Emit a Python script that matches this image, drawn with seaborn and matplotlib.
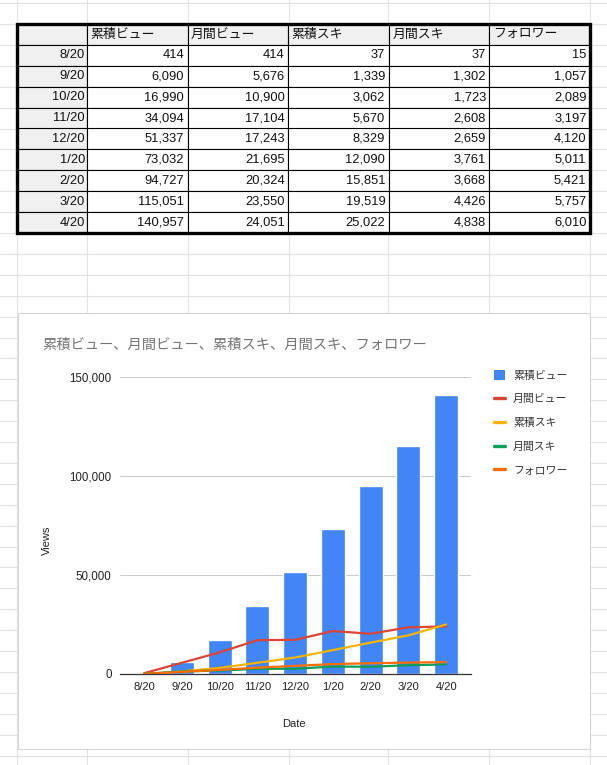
import numpy as np
import pandas as pd
import seaborn as sns
import matplotlib.pyplot as plt
from matplotlib.patches import Rectangle, Patch
from matplotlib.lines import Line2D
from matplotlib.ticker import FuncFormatter

dates = ['8/20', '9/20', '10/20', '11/20', '12/20', '1/20', '2/20', '3/20', '4/20']
total_views = [414, 6090, 16990, 34094, 51337, 73032, 94727, 115051, 140957]
monthly_views = [414, 5676, 10900, 17104, 17243, 21695, 20324, 23550, 24051]
total_likes = [37, 1339, 3062, 5670, 8329, 12090, 15851, 19519, 25022]
monthly_likes = [37, 1302, 1723, 2608, 2659, 3761, 3668, 4426, 4838]
followers = [15, 1057, 2089, 3197, 4120, 5011, 5421, 5757, 6010]

names = ['累積ビュー', '月間ビュー', '累積スキ', '月間スキ', 'フォロワー']
colors = ['#4285F4', '#DB4437', '#F4B400', '#0F9D58', '#FF6D01']

df = pd.DataFrame({'Date': dates, names[0]: total_views, names[1]: monthly_views,
                   names[2]: total_likes, names[3]: monthly_likes, names[4]: followers})
df['pos'] = np.arange(len(df))

sns.set_style('white')
plt.rcParams['font.family'] = ['Liberation Sans', 'Noto Sans CJK JP', 'DejaVu Sans']

W, H = 607, 765
fig = plt.figure(figsize=(W / 100, H / 100), dpi=100)

def box(l, t, r, b):
    return [l / W, 1 - b / H, (r - l) / W, (b - t) / H]

# spreadsheet background grid
bg = fig.add_axes([0, 0, 1, 1])
bg.set_xlim(0, W)
bg.set_ylim(H, 0)
bg.axis('off')
for x in [17, 87, 188, 289, 388, 489, 590]:
    bg.axvline(x, color='#e2e2e2', lw=0.8, zorder=0)
for y in 24 + 20.9 * np.arange(-1, 37):
    bg.axhline(y, color='#e2e2e2', lw=0.8, zorder=0)
bg.add_patch(Rectangle((18, 313), 572, 436, facecolor='white', edgecolor='#d6d6d6', lw=0.8, zorder=2))

# data table
tab = fig.add_axes(box(17, 24, 590, 233))
tab.axis('off')
cells = [[''] + names]
for i, d in enumerate(dates):
    cells.append([d] + [f'{df[n][i]:,}' for n in names])
widths = [70] + [100.6] * 5
table = tab.table(cellText=cells, colWidths=[w / sum(widths) for w in widths],
                  cellLoc='right', bbox=[0, 0, 1, 1])
table.auto_set_font_size(False)
table.set_fontsize(9.3)
for (r, c), cell in table.get_celld().items():
    cell.set_edgecolor('black')
    cell.set_linewidth(0.8)
    cell.PAD = 0.035 if c > 0 else 0.03
    if r == 0 or c == 0:
        cell.set_facecolor('#f0f0f0')
    if r == 0:
        cell._loc = 'left'
        cell.get_text().set_ha('left')
    cell.get_text().set_color('#111111')
tab.add_patch(Rectangle((0, 0), 1, 1, transform=tab.transAxes, fill=False,
                        ec='black', lw=2.4, clip_on=False, zorder=10))

# chart
ax = fig.add_axes(box(120, 377, 471, 674))
ax.set_facecolor('none')
sns.barplot(data=df, x='pos', y=names[0], color=colors[0], saturation=1,
            width=0.64, ax=ax, zorder=3)
for n, c in zip(names[1:], colors[1:]):
    sns.lineplot(data=df, x='pos', y=n, color=c, lw=1.6, ax=ax, zorder=4)

ax.set_xlim(-0.64, 8.66)
ax.set_ylim(0, 150000)
ax.set_yticks([0, 50000, 100000, 150000])
ax.yaxis.set_major_formatter(FuncFormatter(lambda v, p: f'{int(v):,}'))
ax.set_xticks(df['pos'])
ax.set_xticklabels(dates)
ax.grid(axis='y', color='#cccccc', lw=0.8, zorder=0)
ax.set_axisbelow(True)
for s in ['top', 'right', 'left']:
    ax.spines[s].set_visible(False)
ax.spines['bottom'].set_color('#333333')
ax.spines['bottom'].set_linewidth(0.9)
ax.spines['bottom'].set_zorder(5)
ax.tick_params(axis='both', length=0, labelsize=8.3, labelcolor='#222222')
ax.tick_params(axis='x', pad=6, labelsize=8)
ax.tick_params(axis='y', pad=6)

ax.set_xlabel('Date', fontsize=8, color='#222222')
ax.set_ylabel('Views', fontsize=8, color='#222222')
ax.xaxis.set_label_coords(0.496, -0.152)
ax.yaxis.set_label_coords(-0.194, 0.45)

fig.text(42 / W, 1 - 345 / H, '累積ビュー、月間ビュー、累積スキ、月間スキ、フォロワー',
         fontsize=10.3, color='#757575', va='center', ha='left')

handles = [Patch(facecolor=colors[0], edgecolor='none')]
handles += [Line2D([0], [0], color=c, lw=2.4) for c in colors[1:]]
fig.legend(handles, names, loc='upper left', bbox_to_anchor=(494 / W, 1 - 370 / H),
           frameon=False, fontsize=7.8, handlelength=1.05, handleheight=1.05,
           handletextpad=0.7, labelspacing=1.2, borderaxespad=0, borderpad=0,
           labelcolor='#333333')

fig.savefig('out.png', dpi=100)
